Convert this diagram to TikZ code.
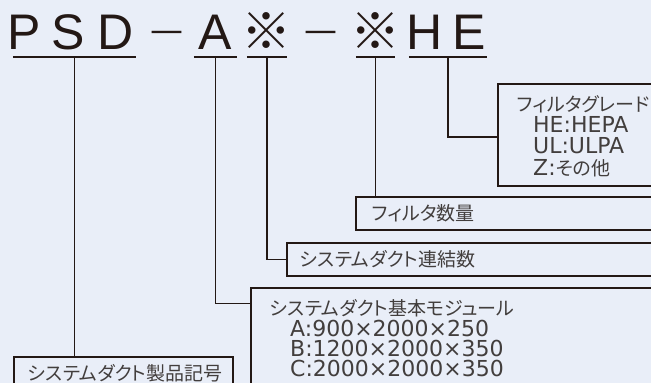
\documentclass[tikz,border=0pt]{standalone}
\usepackage{fontspec}
\newfontfamily\jpfont[RawFeature={+palt}]{Noto Sans CJK JP}
\newfontfamily\latfont{DejaVu Sans}
\newfontfamily\dashfont{DejaVu Sans}
\newfontfamily\symfont{Noto Sans CJK JP}
\newfontfamily\bigfont{Liberation Sans}
\definecolor{bg}{RGB}{233,238,248}
\definecolor{ink}{RGB}{35,24,21}
\definecolor{txt}{RGB}{66,62,61}
\tikzset{
  bigch/.style={anchor=base, inner sep=0pt, text=ink, font=\bigfont\fontsize{50}{50}\selectfont},
  symch/.style={anchor=center, inner sep=0pt, text=ink, font=\symfont\fontsize{50}{50}\selectfont},
  dashch/.style={anchor=base, inner sep=0pt, text=ink, font=\dashfont\fontsize{33}{33}\selectfont},
  uline/.style={inner sep=0pt, minimum height=0pt},
  codebox/.style={draw=ink, line width=1.2pt, inner sep=0pt, rectangle},
  jptext/.style={anchor=base west, inner sep=0pt, text=txt, font=\jpfont\fontsize{19}{19}\selectfont},
  lattext/.style={anchor=base west, inner sep=0pt, text=txt, font=\latfont\fontsize{22}{22}\selectfont},
  conn/.style={draw=ink, line width=1.2pt},
}
\begin{document}
\begin{tikzpicture}[x=1pt, y=-1pt]
\fill[bg] (0,0) rectangle (651,383);
\useasboundingbox (0,0) rectangle (651,383);
\clip (0,0) rectangle (651,383);

% code characters
\node[bigch] (cP) at (24,49) {P};
\node[bigch] (cS) at (68.5,49) {S};
\node[bigch] (cD) at (116,49) {D};
\node[dashch] (d1) at (166.5,41.5) {—};
\node[bigch] (cA) at (215.5,49) {A};
\node[symch] (m1) at (266.5,31) {※};
\node[dashch] (d2) at (320.5,41.5) {—};
\node[symch] (m2) at (375.5,31) {※};
\node[bigch] (cH) at (425,49) {H};
\node[bigch] (cE) at (469,49) {E};

% underlines
\node[uline, minimum width=123pt] (uPSD) at (74.5,57) {};
\node[uline, minimum width=43pt] (uA) at (215.5,57) {};
\node[uline, minimum width=40pt] (uM1) at (267,57) {};
\node[uline, minimum width=39pt] (uM2) at (375.5,57) {};
\node[uline, minimum width=78pt] (uHE) at (448,57) {};
\foreach \u in {uPSD,uA,uM1,uM2,uHE}
  \draw[conn] (\u.west) -- (\u.east);

% boxes
\node[codebox, minimum width=162pt, minimum height=102pt] (gradebox) at (579,135) {};
\node[codebox, minimum width=304pt, minimum height=33pt] (qtybox) at (508,213.5) {};
\node[codebox, minimum width=373pt, minimum height=33pt] (linkbox) at (473.5,259.5) {};
\node[codebox, minimum width=409pt, minimum height=112pt] (modbox) at (455.5,344) {};
\node[codebox, minimum width=219pt, minimum height=43pt] (prodbox) at (123.5,378.5) {};

% texts
\node[jptext] (gt) at (517,111) {フィルタグレード};
\node[lattext] (g1) at (533,132) {HE:HEPA};
\node[lattext] (g2) at (533,153.5) {UL:ULPA};
\node[lattext] (g3) at (533,175) {Z:{\jpfont\fontsize{19}{19}\selectfont その他}};
\node[jptext] (qt) at (372,220) {フィルタ数量};
\node[jptext] (lt) at (300,266) {システムダクト連結数};
\node[jptext] (mt) at (270,315) {システムダクト基本モジュール};
\node[lattext] (m1t) at (290,336) {A:900×2000×250};
\node[lattext] (m2t) at (290,356) {B:1200×2000×350};
\node[lattext] (m3t) at (290,376) {C:2000×2000×350};
\node[jptext] (pt) at (28,380) {システムダクト製品記号};

% connectors
\draw[conn] (uPSD.south) -- (uPSD.south |- prodbox.north);
\draw[conn] (uA.south) |- ([yshift=-16pt]modbox.north west);
\draw[conn] (uM1.south) |- (linkbox.west);
\draw[conn] (uM2.south) -- (uM2.south |- qtybox.north);
\draw[conn] (uHE.south) |- ([yshift=-2pt]gradebox.west);
\end{tikzpicture}
\end{document}
